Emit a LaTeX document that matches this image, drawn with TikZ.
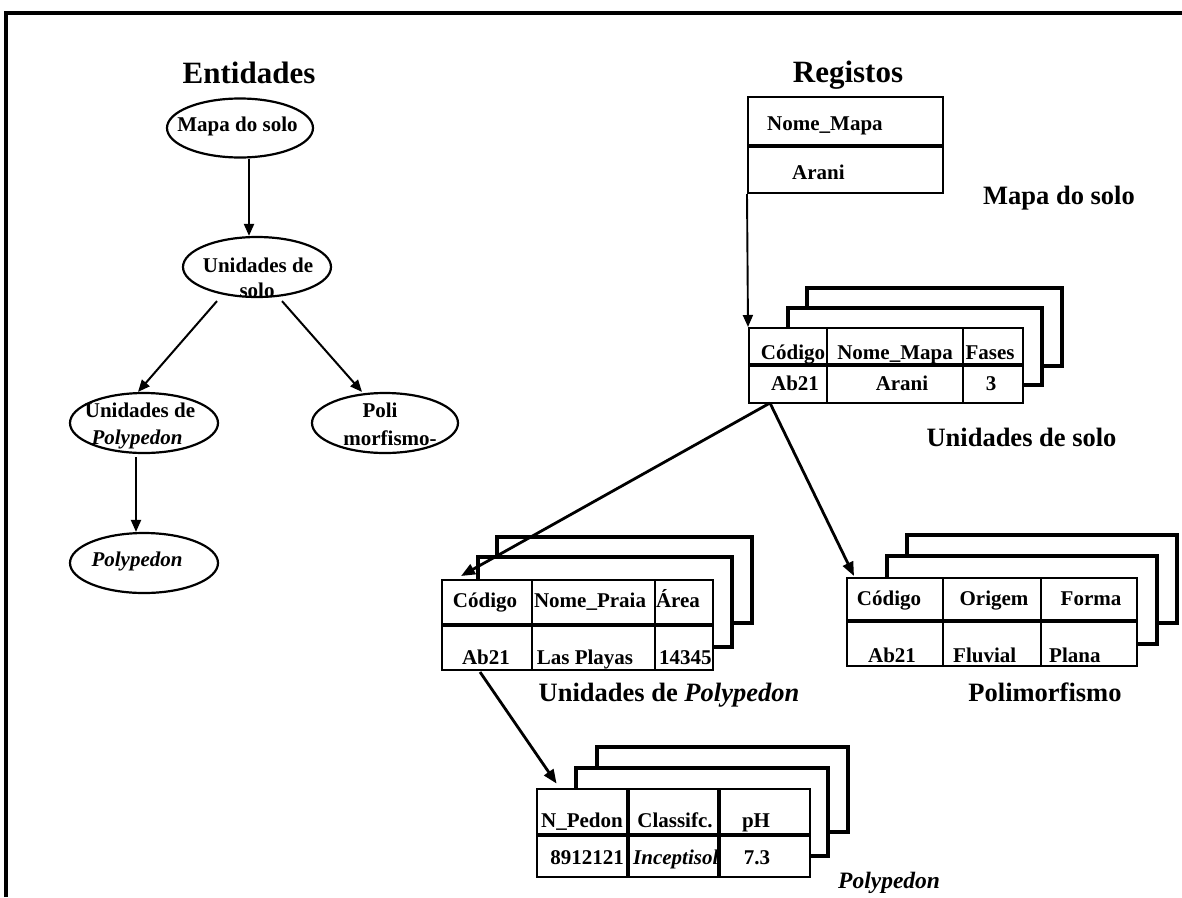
\documentclass[tikz,border=0pt]{standalone}
\usepackage{fontspec}
\setmainfont{Liberation Serif}
\usetikzlibrary{shapes.geometric,arrows.meta}
\begin{document}
\begin{tikzpicture}[x=1pt,y=-1pt,
  tA/.style={font=\fontsize{21}{24}\selectfont\bfseries, inner sep=0pt, anchor=base},
  tAl/.style={tA, anchor=base west},
  tL/.style={font=\fontsize{26.5}{30}\selectfont\bfseries, inner sep=0pt, anchor=base},
  tT/.style={font=\fontsize{31}{34}\selectfont\bfseries, inner sep=0pt, anchor=base},
  ell/.style={ellipse, draw, line width=2.2pt, inner sep=0pt},
  front/.style={draw, line width=2pt, inner sep=0pt},
  sheet/.style={draw, line width=3.2pt, line join=miter},
  divd/.style={line width=3.2pt},
  thin/.style={line width=1.9pt},
  arrL/.style={line width=2pt, -{Triangle[length=12pt,width=10pt]}},
  arrR/.style={line width=2.8pt, -{Triangle[length=14pt,width=11pt]}}
]
\useasboundingbox (0,0) rectangle (1182,897);
\fill[white] (0,0) rectangle (1182,897);
% frame
\draw[line width=3.2pt] (6,897) -- (6,13) -- (1182,13);

% titles
\node[tT] (ttl1) at (249,83) {Entidades};
\node[tT] (ttl2) at (848,82) {Registos};

% ---------- Entities ----------
\node[ell, minimum width=146pt, minimum height=59pt] (e1) at (240,128) {};
\node[tA] (e1t) at (237.5,131) {Mapa do solo};
\node[ell, minimum width=148pt, minimum height=60pt] (e2) at (257,267) {};
\node[tA] (e2t) at (258,272) {Unidades de};
\node[tA] (e2u) at (257,297) {solo};
\node[ell, minimum width=148pt, minimum height=60pt] (e3) at (144,423) {};
\node[tA] (e3t) at (140,417) {Unidades de};
\node[tA] (e3u) at (137,444) {\itshape Polypedon};
\node[ell, minimum width=146pt, minimum height=60pt] (e4) at (385,423) {};
\node[tA] (e4t) at (380,417) {Poli};
\node[tA] (e4u) at (390,445) {morfismo-};
\node[ell, minimum width=148pt, minimum height=60pt] (e5) at (144,563) {};
\node[tA] (e5t) at (137,566) {\itshape Polypedon};

\draw[arrL] ([xshift=9pt]e1.south) -- ([xshift=-8pt]e2.north);
\draw[arrL] ([xshift=-40pt,yshift=-3pt]e2.south) -- ([xshift=-6pt]e3.north);
\draw[arrL] ([xshift=25pt,yshift=-3pt]e2.south) -- ([xshift=-23pt]e4.north);
\draw[arrL] ([xshift=-8pt,yshift=-3pt]e3.south) -- ([xshift=-8pt]e5.north);

% ---------- Records ----------
% Mapa do solo record
\node[front, minimum width=195pt, minimum height=96pt] (t0) at (845.5,145) {};
\draw[divd] (748,146) -- (943,146);
\node[tAl] (t0a) at (767,130) {Nome\_Mapa};
\node[tAl] (t0b) at (792,179) {Arani};
\node[tL] (l0) at (1059,204) {Mapa do solo};

% Unidades de solo record
\draw[sheet] (807,308) -- (807,288) -- (1062,288) -- (1062,366) -- (1042,366);
\draw[sheet] (788,328) -- (788,308) -- (1042,308) -- (1042,385) -- (1023,385);
\node[front, minimum width=274pt, minimum height=75pt] (t1) at (886,365.5) {};
\draw[divd] (749,365) -- (1023,365);
\draw[thin] (827,328) -- (827,403);
\draw[thin] (963,328) -- (963,403);
\node[tA] (t1a) at (793,359) {Código};
\node[tA] (t1b) at (895,359) {Nome\_Mapa};
\node[tA] (t1c) at (990,359) {Fases};
\node[tA] (t1d) at (795,390) {Ab21};
\node[tA] (t1e) at (902,390) {Arani};
\node[tA] (t1f) at (991,390) {3};
\node[tL] (l1) at (1021.5,446) {Unidades de solo};

\draw[thin, -{Triangle[length=12pt,width=10pt]}] (t0.south west) -- (t1.north west);

% Unidades de Polypedon record
\draw[sheet] (497,557) -- (497,537) -- (752,537) -- (752,623) -- (732,623);
\draw[sheet] (478,580) -- (478,557) -- (732,557) -- (732,647) -- (713,647);
\node[front, minimum width=271pt, minimum height=90pt] (t2) at (577.5,625) {};
\draw[divd] (442,625) -- (713,625);
\draw[thin] (532,580) -- (532,670);
\draw[thin] (655,580) -- (655,670);
\node[tA] (t2a) at (485,607) {Código};
\node[tA] (t2b) at (590,607) {Nome\_Praia};
\node[tA] (t2c) at (678,607) {Área};
\node[tA] (t2d) at (486,664) {Ab21};
\node[tA] (t2e) at (585,664) {Las Playas};
\begin{scope}
\clip (655,626) rectangle (712,669);
\node[tAl] (t2f) at (659,664) {14345};
\end{scope}
\node[tL] (l2) at (669,701) {Unidades de \textit{Polypedon}};

% Polimorfismo record
\draw[sheet] (907,556) -- (907,535) -- (1177,535) -- (1177,623) -- (1157,623);
\draw[sheet] (887,578) -- (887,556) -- (1157,556) -- (1157,644) -- (1137,644);
\node[front, minimum width=290pt, minimum height=88pt] (t3) at (992,622) {};
\draw[divd] (847,621) -- (1137,621);
\draw[thin] (943,578) -- (943,666);
\draw[thin] (1041,578) -- (1041,666);
\node[tA] (t3a) at (889,605) {Código};
\node[tA] (t3b) at (994,605) {Origem};
\node[tA] (t3c) at (1091,605) {Forma};
\node[tA] (t3d) at (892,662) {Ab21};
\node[tAl] (t3e) at (953,662) {Fluvial};
\node[tAl] (t3f) at (1049,662) {Plana};
\node[tL] (l3) at (1045,701) {Polimorfismo};

% Polypedon record
\draw[sheet] (597,768) -- (597,747) -- (848,747) -- (848,832) -- (828,832);
\draw[sheet] (576,789) -- (576,768) -- (828,768) -- (828,856) -- (810,856);
\node[draw, line width=2.8pt, inner sep=0pt, minimum width=273pt, minimum height=88pt] (t4) at (673.5,833) {};
\draw[divd] (537,835) -- (810,835);
\draw[divd] (628,789) -- (628,877);
\draw[divd] (719,789) -- (719,877);
\node[tA] (t4a) at (582,827) {N\_Pedon};
\node[tA] (t4b) at (675,827) {Classifc.};
\node[tA] (t4c) at (756,827) {pH};
\node[tA] (t4d) at (587,864) {8912121};
\begin{scope}
\clip (629,836) rectangle (717.5,876);
\node[tAl] (t4e) at (633,864) {\itshape Inceptisol};
\end{scope}
\node[tA] (t4f) at (757,864) {7.3};
\node[font=\fontsize{23.5}{26}\selectfont\bfseries\itshape, inner sep=0pt, anchor=base west] (l4) at (838,888) {Polypedon};

% record connectors
\coordinate (s1) at (770,403);
\coordinate (s2) at (480,672);
\draw[arrR] (s1) -- ([xshift=20pt,yshift=3pt]t2.north west);
\draw[arrR] (s1) -- ([xshift=8pt,yshift=1pt]t3.north west);
\draw[arrR] (s2) -- ([xshift=21pt,yshift=4pt]t4.north west);
\end{tikzpicture}
\end{document}
